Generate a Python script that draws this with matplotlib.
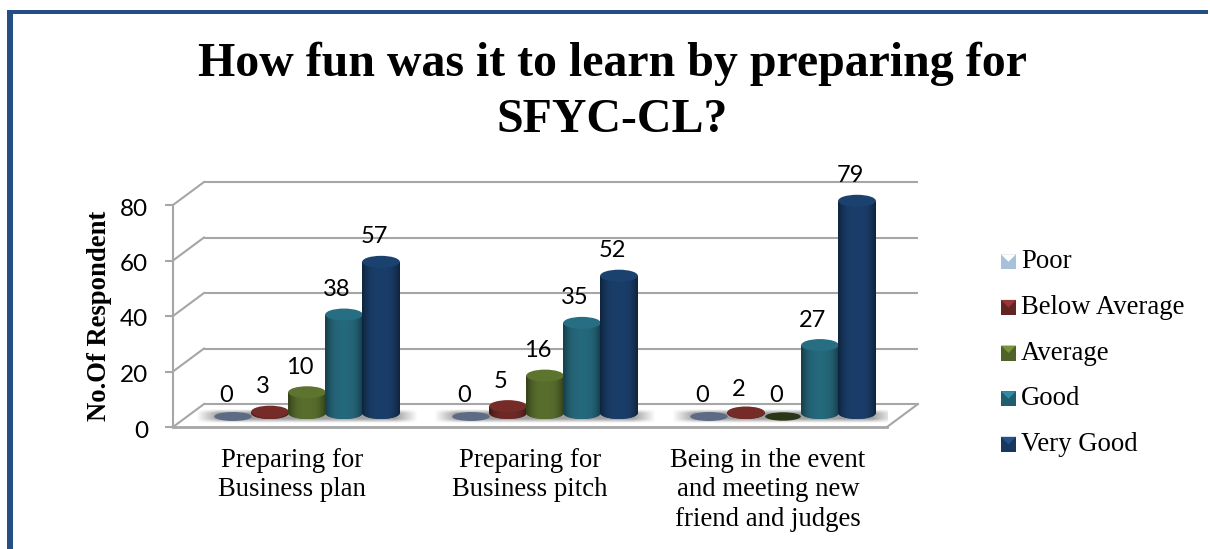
import numpy as np
import matplotlib
matplotlib.use("Agg")
import matplotlib.pyplot as plt
import matplotlib.transforms as mtransforms
from matplotlib.patches import Ellipse, Polygon, Rectangle
from matplotlib.colors import to_rgb
from matplotlib.legend_handler import HandlerBase

title = "How fun was it to learn by preparing for\nSFYC-CL?"
categories = ["Preparing for\nBusiness plan", "Preparing for\nBusiness pitch",
              "Being in the event\nand meeting new\nfriend and judges"]
series_names = ["Poor", "Below Average", "Average", "Good", "Very Good"]
poor = [0, 0, 0]
below_average = [3, 5, 2]
average = [10, 16, 0]
good = [38, 35, 27]
very_good = [57, 52, 79]
y_ticks = [0, 20, 40, 60, 80]
y_label = "No.Of Respondent"

colors = ["#5d6c84", "#632523", "#4f6228", "#215d6e", "#17375e"]
legend_colors = ["#a9c0db", "#632523", "#4f6228", "#215d6e", "#17375e"]
series = [poor, below_average, average, good, very_good]

W, H = 1210, 549
fig = plt.figure(figsize=(W / 100, H / 100), dpi=100, facecolor="white")

L, R, Y0 = 173, 887, 427
PX_Y = 222 / 80
YMAX = 100
ax = fig.add_axes([L / W, 1 - Y0 / H, (R - L) / W, YMAX * PX_Y / H], facecolor="none")
ax.set_xlim(-0.5, 2.5)
ax.set_ylim(0, YMAX)
PX_X = 3 / (R - L)
GRID = "#a6a6a6"

# page border
fig.add_artist(Rectangle((7 / W, 0), 5.5 / W, 1 - 10 / H, transform=fig.transFigure, fc="#234f85", ec="none"))
fig.add_artist(Rectangle((7 / W, 1 - 13.5 / H), 1 - 9 / W, 3.5 / H, transform=fig.transFigure, fc="#234f85", ec="none"))

# walls
DX, DY = 31, 23
back = ax.transData + mtransforms.ScaledTranslation(DX / 100, DY / 100, fig.dpi_scale_trans)
for v in y_ticks:
    ax.plot([-0.5, 2.5], [v, v], transform=back, color=GRID, lw=1.5, zorder=1,
            solid_capstyle="butt", clip_on=False)
    ax.plot([-0.5, -0.5 + DX * PX_X], [v, v + DY / PX_Y], color=GRID, lw=1.5, zorder=1, clip_on=False)
ax.plot([2.5, 2.5 + DX * PX_X], [0, DY / PX_Y], color=GRID, lw=1.5, zorder=1, clip_on=False)
ax.plot([-0.5, 2.5], [0, 0], color=GRID, lw=2, zorder=1, clip_on=False)

# floor shadow
BAR_SHIFT = 15 * PX_X
BASE = 14 / PX_Y       # centre of a cylinder's bottom ellipse
TOP_OFF = 7 / PX_Y     # value-to-top offset
ZERO = 10.5 / PX_Y     # centre of a flat (zero) ellipse
sx = np.linspace(-1, 1, 200)
sy = np.linspace(-1, 1, 30)
ax_x = np.clip((1 - np.abs(sx)) / 0.2, 0, 1)
ax_y = np.clip((1 - np.abs(sy)) / 0.6, 0, 1)
shadow = np.zeros((30, 200, 4))
shadow[..., :3] = 0.5
shadow[..., 3] = np.outer(ax_y, ax_x) * 0.75
for i in range(3):
    cx = i + BAR_SHIFT
    ax.imshow(shadow, extent=(cx - 111 * PX_X, cx + 111 * PX_X, ZERO - 7 / PX_Y, ZERO + 7 / PX_Y),
              aspect="auto", zorder=2, interpolation="bilinear")

# cylinders
STEP = 37.0 * PX_X
HALF = 18.8 * PX_X
RY = 6 / PX_Y
u = np.linspace(-1, 1, 120)
shade = np.abs(u) ** 3


def cylinder(xc, v, color, z):
    rgb = np.array(to_rgb(color))
    if v == 0:
        if color == colors[0]:
            ax.add_patch(Ellipse((xc, ZERO), 2 * HALF, 2 * RY * 0.75, fc=color, ec="none", zorder=z))
        else:
            ax.add_patch(Ellipse((xc, ZERO), 2 * HALF * 0.95, 2 * RY * 0.7, fc=rgb * 0.55, ec="none", zorder=z))
        return
    top = max(v + TOP_OFF, BASE + 0.5 / PX_Y)
    ax.bar(xc, top - BASE, bottom=BASE, width=2 * HALF, color=color, zorder=z, linewidth=0)
    ax.add_patch(Ellipse((xc, BASE), 2 * HALF, 2 * RY, fc=color, ec="none", zorder=z))
    grad = np.zeros((1, u.size, 4))
    grad[..., :3] = rgb * (1.12 - 0.5 * shade)[:, None]
    grad = np.clip(grad, 0, 1)
    grad[..., 3] = 1
    t = np.linspace(np.pi, 2 * np.pi, 40)
    pts = [(xc - HALF, top)]
    pts += list(zip(xc + HALF * np.cos(t), BASE + RY * np.sin(t)))
    pts += [(xc + HALF, top)]
    im = ax.imshow(grad, extent=(xc - HALF, xc + HALF, BASE - RY, top), aspect="auto",
                   zorder=z, interpolation="bilinear")
    im.set_clip_path(Polygon(pts, closed=True, transform=ax.transData))
    ax.add_patch(Ellipse((xc, top), 2 * HALF, 2 * RY, fc=np.clip(rgb * 1.18, 0, 1), ec="none", zorder=z))


z = 3
for s, (vals, col) in enumerate(zip(series, colors)):
    for i, v in enumerate(vals):
        xc = i + BAR_SHIFT + (s - 2) * STEP
        cylinder(xc, v, col, z + s)
for s, vals in enumerate(series):
    for i, v in enumerate(vals):
        xc = i + BAR_SHIFT + (s - 2) * STEP
        ax.annotate(str(v), (xc, v + TOP_OFF), xytext=(-7, 25), textcoords="offset pixels",
                    ha="center", va="center", fontsize=17, family="Lato", color="black", zorder=20)

# axes
for sp in ["top", "right", "bottom"]:
    ax.spines[sp].set_visible(False)
ax.spines["left"].set_bounds(0, 80)
ax.spines["left"].set_color(GRID)
ax.spines["left"].set_linewidth(1.5)
ax.set_yticks(y_ticks)
ax.set_yticklabels([str(v) for v in y_ticks], family="Lato", fontsize=17.5)
ax.tick_params(axis="y", length=5.8, width=1.5, color=GRID, pad=12)
for lab in ax.get_yticklabels():
    lab.set_transform(lab.get_transform() + mtransforms.ScaledTranslation(0, -2 / 100, fig.dpi_scale_trans))
ax.set_xticks(range(3))
ax.set_xticklabels(categories, family="Liberation Serif", fontsize=19.3, linespacing=1.24)
ax.tick_params(axis="x", length=0, pad=15)

fig.text(99 / W, 1 - 316 / H, y_label, rotation=90, ha="center", va="center",
         family="Liberation Serif", weight="bold", fontsize=19.2)
fig.text(612 / W, 1 - 92 / H, title, ha="center", va="center", family="Liberation Serif",
         weight="bold", fontsize=34.5, linespacing=1.37)


# legend
class BevelHandler(HandlerBase):
    def create_artists(self, legend, orig, xd, yd, width, height, fontsize, trans):
        rgb = np.array(to_rgb(orig.get_facecolor()))
        x0, y0 = -xd, -yd - 1.5
        sq = Rectangle((x0, y0), width, width, fc=rgb, ec="none", transform=trans)
        tri = Polygon([(x0, y0 + width), (x0 + width, y0 + width), (x0 + width / 2, y0 + width / 2)],
                      fc=np.clip(rgb * 1.5, 0, 1), ec="none", transform=trans)
        return [sq, tri]


handles = [Rectangle((0, 0), 1, 1, fc=c) for c in legend_colors]
leg = fig.legend(handles, series_names, loc="upper left", bbox_to_anchor=(1001 / W, 1 - 249.5 / H),
                 bbox_transform=fig.transFigure, frameon=False, borderpad=0, borderaxespad=0,
                 handlelength=0.56, handleheight=0.56, handletextpad=0.19, labelspacing=0.77,
                 prop={"family": "Liberation Serif", "size": 19.3},
                 handler_map={Rectangle: BevelHandler()})

fig.savefig("out.png", dpi=100, facecolor="white")
